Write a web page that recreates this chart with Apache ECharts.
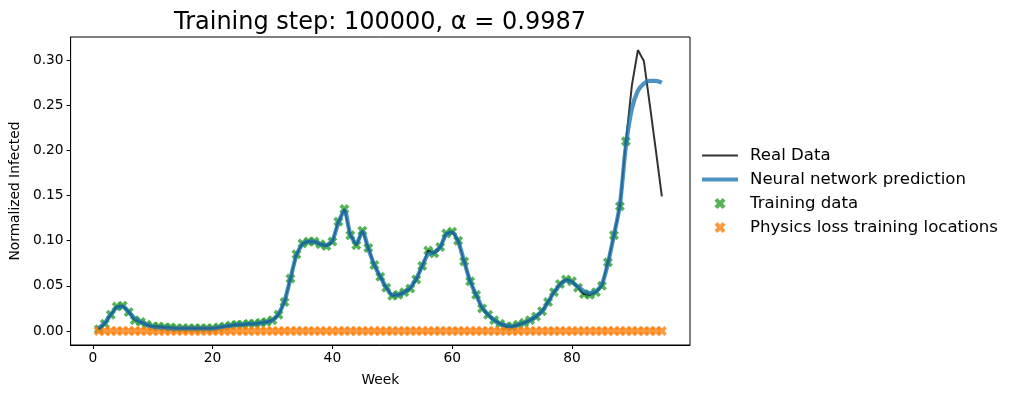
<!DOCTYPE html>
<html>
<head>
<meta charset="utf-8">
<script src="https://cdn.jsdelivr.net/npm/echarts@6/dist/echarts.min.js"></script>
<style>
  html, body { margin: 0; padding: 0; background: #fff; }
  #chart { width: 1016px; height: 398px; }
</style>
</head>
<body>
<div id="chart"></div>
<script>
// week numbers
const weeks = [
  1, 2, 3, 4, 5, 6, 7, 8, 9, 10, 11, 12, 13, 14, 15, 16, 17, 18, 19, 20,
  21, 22, 23, 24, 25, 26, 27, 28, 29, 30, 31, 32, 33, 34, 35, 36, 37, 38, 39, 40,
  41, 42, 43, 44, 45, 46, 47, 48, 49, 50, 51, 52, 53, 54, 55, 56, 57, 58, 59, 60,
  61, 62, 63, 64, 65, 66, 67, 68, 69, 70, 71, 72, 73, 74, 75, 76, 77, 78, 79, 80,
  81, 82, 83, 84, 85, 86, 87, 88, 89, 90, 91, 92, 93, 94, 95
];

// real (normalized) infected
const realData = [
  0.002, 0.008, 0.018, 0.027, 0.028, 0.021, 0.012, 0.010, 0.007, 0.005,
  0.005, 0.004, 0.004, 0.003, 0.003, 0.003, 0.003, 0.003, 0.003, 0.003,
  0.004, 0.005, 0.006, 0.007, 0.007, 0.008, 0.008, 0.009, 0.010, 0.012,
  0.018, 0.032, 0.058, 0.085, 0.097, 0.099, 0.099, 0.096, 0.094, 0.099,
  0.121, 0.135, 0.106, 0.095, 0.111, 0.092, 0.073, 0.060, 0.048, 0.039,
  0.040, 0.043, 0.047, 0.057, 0.072, 0.089, 0.086, 0.093, 0.108, 0.110,
  0.100, 0.077, 0.055, 0.040, 0.025, 0.018, 0.012, 0.008, 0.005, 0.005,
  0.007, 0.009, 0.012, 0.016, 0.022, 0.032, 0.043, 0.052, 0.057, 0.055,
  0.048, 0.041, 0.040, 0.043, 0.050, 0.076, 0.106, 0.138, 0.210, 0.272,
  0.311, 0.299, 0.250, 0.200, 0.149
];

// neural network prediction
const predData = [
  0.003, 0.009, 0.018, 0.026, 0.027, 0.021, 0.014, 0.010, 0.007, 0.005,
  0.004, 0.004, 0.003, 0.003, 0.003, 0.003, 0.003, 0.003, 0.003, 0.003,
  0.004, 0.005, 0.006, 0.007, 0.007, 0.008, 0.008, 0.009, 0.010, 0.012,
  0.019, 0.033, 0.058, 0.084, 0.096, 0.099, 0.099, 0.096, 0.095, 0.100,
  0.120, 0.133, 0.107, 0.097, 0.110, 0.091, 0.073, 0.060, 0.048, 0.040,
  0.040, 0.043, 0.048, 0.058, 0.072, 0.085, 0.087, 0.093, 0.107, 0.109,
  0.099, 0.077, 0.055, 0.040, 0.026, 0.018, 0.012, 0.008, 0.006, 0.005,
  0.007, 0.009, 0.012, 0.016, 0.022, 0.032, 0.043, 0.051, 0.056, 0.054,
  0.049, 0.044, 0.042, 0.044, 0.052, 0.075, 0.106, 0.140, 0.205, 0.246,
  0.266, 0.274, 0.277, 0.277, 0.275
];

// training points: first 89 weeks of the real data
const trainCount = 89;
// physics loss locations sit on zero
const physicsValue = 0;

const xTicks = [0, 20, 40, 60, 80];
const yTicks = [0, 0.05, 0.1, 0.15, 0.2, 0.25, 0.3];

const FONT = 'DejaVu Sans';
const xMark = 'path://M2.6,0 L5,2.4 L7.4,0 L10,2.6 L7.6,5 L10,7.4 L7.4,10 L5,7.6 L2.6,10 L0,7.4 L2.4,5 L0,2.6 Z';
// plain line icons for the legend
const thinLine = 'path://M0,0 H36 V2 H0 Z';
const thickLine = 'path://M0,0 H36 V4 H0 Z';

const chart = echarts.init(document.getElementById('chart'));

const option = {
  animation: false,
  backgroundColor: '#fff',
  title: {
    text: 'Training step: 100000, α = 0.9987',
    left: 375,
    top: 6,
    textAlign: 'center',
    textStyle: { fontFamily: FONT, fontSize: 24, fontWeight: 'normal', color: '#000' }
  },
  grid: {
    left: 70, right: 326, top: 37, bottom: 53,
    show: true, borderColor: '#000', borderWidth: 1, backgroundColor: 'transparent'
  },
  legend: {
    orient: 'vertical',
    left: 697,
    top: 142,
    itemWidth: 36,
    itemHeight: 11,
    itemGap: 7,
    textStyle: { fontFamily: FONT, fontSize: 16.6, color: '#000', padding: [0, 0, 0, 7] },
    data: [
      { name: 'Real Data', icon: thinLine },
      { name: 'Neural network prediction', icon: thickLine },
      { name: 'Training data', icon: xMark },
      { name: 'Physics loss training locations', icon: xMark }
    ]
  },
  xAxis: {
    type: 'value',
    min: -3.7,
    max: 99.7,
    name: 'Week',
    nameLocation: 'middle',
    nameGap: 28,
    nameTextStyle: { fontFamily: FONT, fontSize: 13.8, color: '#000' },
    axisLine: { show: true, onZero: false, lineStyle: { color: '#000', width: 1 } },
    axisTick: { show: true, length: 4, lineStyle: { color: '#000' }, customValues: xTicks },
    axisLabel: { customValues: xTicks, color: '#000', fontFamily: FONT, fontSize: 13.8, margin: 6 },
    splitLine: { show: false }
  },
  yAxis: {
    type: 'value',
    min: -0.0155,
    max: 0.3255,
    name: 'Normalized Infected',
    nameLocation: 'middle',
    nameGap: 46,
    nameTextStyle: { fontFamily: FONT, fontSize: 13.8, color: '#000' },
    axisLine: { show: true, onZero: false, lineStyle: { color: '#000', width: 1 } },
    axisTick: { show: true, length: 4, lineStyle: { color: '#000' }, customValues: yTicks },
    axisLabel: {
      customValues: yTicks, color: '#000', fontFamily: FONT, fontSize: 13.8, margin: 7,
      formatter: v => v.toFixed(2)
    },
    splitLine: { show: false }
  },
  series: [
    {
      name: 'Training data',
      type: 'scatter',
      z: 1,
      symbol: xMark,
      symbolSize: 10,
      itemStyle: { color: '#2ca02c', opacity: 0.8 },
      data: weeks.slice(0, trainCount).map((w, i) => [w, realData[i]])
    },
    {
      name: 'Physics loss training locations',
      type: 'scatter',
      z: 2,
      symbol: xMark,
      symbolSize: 10,
      itemStyle: { color: '#ff7f0e', opacity: 0.8 },
      data: weeks.map(w => [w, physicsValue])
    },
    {
      name: 'Real Data',
      type: 'line',
      z: 3,
      symbol: 'none',
      itemStyle: { color: '#000', opacity: 0.8 },
      lineStyle: { color: '#000', width: 2, opacity: 0.8 },
      data: weeks.map((w, i) => [w, realData[i]])
    },
    {
      name: 'Neural network prediction',
      type: 'line',
      z: 4,
      symbol: 'none',
      smooth: 0.3,
      itemStyle: { color: '#1f77b4', opacity: 0.8 },
      lineStyle: { color: '#1f77b4', width: 4.2, opacity: 0.8 },
      data: weeks.map((w, i) => [w, predData[i]])
    }
  ]
};

chart.setOption(option);
window.addEventListener('resize', () => chart.resize());
</script>
</body>
</html>
